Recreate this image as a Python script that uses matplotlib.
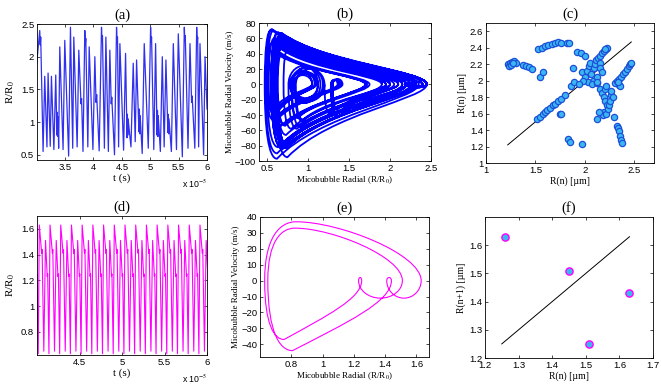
import numpy as np
import matplotlib.pyplot as plt
from matplotlib.path import Path
from matplotlib.patches import PathPatch

plt.rcParams['font.family'] = ['Liberation Sans', 'DejaVu Sans']
plt.rcParams['mathtext.fontset'] = 'stix'
SERIF = ['Liberation Serif', 'DejaVu Serif']

# ---- (a) chaotic R/R0 trace, turning points (t in 1e-5 s)
a_t = [3.000, 3.053, 3.062, 3.070, 3.112, 3.141, 3.180, 3.200, 3.238, 3.259,
       3.302, 3.335, 3.355, 3.362, 3.370, 3.376, 3.386, 3.406, 3.464, 3.494,
       3.562, 3.594, 3.634, 3.653, 3.712, 3.741, 3.780, 3.790, 3.815, 3.847,
       3.856, 3.864, 3.900, 3.924, 3.990, 4.024, 4.045, 4.056, 4.100, 4.141,
       4.150, 4.158, 4.192, 4.218, 4.262, 4.288, 4.312, 4.322, 4.370, 4.406,
       4.415, 4.423, 4.442, 4.465, 4.530, 4.565, 4.590, 4.597, 4.604, 4.610,
       4.660, 4.700, 4.735, 4.759, 4.800, 4.808, 4.816, 4.822, 4.858, 4.894,
       4.965, 5.006, 5.015, 5.023, 5.062, 5.094, 5.120, 5.127, 5.134, 5.140,
       5.178, 5.212, 5.245, 5.276, 5.310, 5.317, 5.324, 5.330, 5.372, 5.406,
       5.462, 5.494, 5.565, 5.600, 5.609, 5.617, 5.665, 5.700, 5.728, 5.738,
       5.785, 5.818, 5.827, 5.835, 5.852, 5.876, 5.940, 5.965, 6.000]
a_r = [1.90, 2.40, 2.18, 2.30, 0.55, 1.70, 0.62, 1.75, 0.63, 1.70,
       0.58, 1.72, 0.80, 1.15, 0.78, 1.08, 0.60, 2.15, 0.58, 2.25,
       0.48, 2.45, 0.60, 2.30, 0.62, 2.10, 1.28, 1.36, 0.55, 2.40,
       2.18, 2.28, 0.62, 2.15, 0.58, 2.00, 1.30, 1.42, 0.56, 2.45,
       2.25, 2.32, 0.60, 2.30, 0.55, 2.10, 1.28, 1.38, 0.50, 2.45,
       2.22, 2.30, 0.62, 2.20, 0.57, 2.05, 0.76, 1.12, 0.80, 1.05,
       0.62, 1.90, 0.70, 1.95, 0.85, 1.20, 0.82, 1.10, 0.52, 2.20,
       0.60, 2.45, 2.22, 2.30, 0.58, 2.20, 0.80, 1.18, 0.78, 1.10,
       0.55, 2.00, 0.62, 1.95, 0.84, 1.12, 0.82, 1.05, 0.55, 2.20,
       0.58, 2.35, 0.47, 2.45, 2.25, 2.32, 0.60, 2.20, 1.30, 1.40,
       0.60, 2.45, 2.22, 2.30, 0.62, 2.20, 0.50, 2.00, 1.20]
# ---- (b) peak wall velocity (m/s) on each stroke between the turning points above
b_v = [18, -3, 2, -84, 41, -52, 41, -54, 39, -54,
       41, -44, 22, -24, 18, -35, 56, -75, 60, -90,
       72, -95, 61, -81, 53, -39, 6, -42, 67, -3,
       2, -80, 55, -75, 51, -33, 7, -45, 68, -3,
       2, -83, 61, -84, 56, -39, 6, -46, 70, -4,
       2, -81, 57, -78, 53, -58, 24, -24, 16, -30,
       46, -58, 45, -46, 20, -22, 14, -38, 60, -77,
       67, -4, 2, -83, 58, -56, 22, -22, 16, -33,
       52, -66, 48, -48, 16, -18, 12, -30, 59, -78,
       64, -97, 71, -3, 2, -83, 58, -43, 6, -40,
       67, -4, 2, -81, 57, -82, 54, -38]

# ---- (c) return map of maxima
c_x = [1.22, 1.23, 1.24, 1.25, 1.26, 1.28, 1.30, 1.27,
       1.37, 1.40, 1.44, 1.47,
       1.55, 1.58,
       1.53, 1.57, 1.60, 1.63, 1.67, 1.70, 1.73, 1.76, 1.82, 1.84,
       1.52, 1.55, 1.58, 1.60, 1.62, 1.65, 1.68, 1.70, 1.73, 1.76, 1.80, 1.86, 1.89,
       1.75, 1.76, 1.83, 1.85, 1.97,
       1.88, 1.92, 1.96, 2.00, 1.97, 2.00, 2.02, 2.04, 2.05, 2.06, 2.08, 2.09,
       2.10, 2.11, 2.12, 2.13, 2.15, 2.15, 2.17, 2.03, 2.07, 1.98, 2.12, 1.94,
       2.15, 2.17, 2.19, 2.21, 2.22, 2.20,
       2.12, 2.15, 2.17, 2.19, 2.20, 2.22, 2.19, 2.18,
       2.21, 2.23, 2.24, 2.25, 2.26, 2.27, 2.20, 2.21,
       2.12, 2.14, 2.29, 2.30,
       2.33, 2.34, 2.35, 2.36, 2.37, 2.38,
       2.31, 2.33, 2.35, 2.37, 2.39, 2.41, 2.43, 2.45, 2.46, 2.47, 2.35, 2.36, 2.34]
c_y = [2.20, 2.18, 2.22, 2.19, 2.23, 2.24, 2.21, 2.22,
       2.19, 2.18, 2.16, 2.14,
       2.05, 2.10,
       2.38, 2.40, 2.42, 2.43, 2.45, 2.46, 2.47, 2.46, 2.46, 2.46,
       1.53, 1.56, 1.60, 1.62, 1.64, 1.67, 1.70, 1.72, 1.75, 1.78, 1.82, 1.93, 1.98,
       1.60, 1.59, 1.29, 1.26, 1.23,
       2.15, 2.35, 2.34, 2.30, 2.10, 2.05, 2.12, 2.18, 2.22, 2.08, 2.00, 2.15,
       2.20, 2.25, 2.05, 2.28, 2.22, 2.15, 2.10, 1.98, 1.96, 2.00, 1.97, 1.96,
       2.30, 2.33, 2.36, 2.38, 2.40, 2.39,
       1.98, 1.90, 1.85, 1.80, 1.75, 1.70, 1.62, 1.58,
       1.60, 1.65, 1.70, 1.75, 1.82, 1.87, 1.90, 1.93,
       1.53, 1.62, 1.80, 1.56,
       1.45, 1.42, 1.39, 1.33, 1.28, 1.24,
       1.97, 2.00, 2.02, 2.05, 2.08, 2.11, 2.14, 2.18, 2.20, 2.22, 1.95, 1.93, 1.98]
c_diag = [1.22, 2.47]

# ---- (d) periodic trace: one period of turning points (phase, R/R0)
d_period = 0.126          # 1e-5 s
d_first_peak = 4.027
d_phase = [0.00, 0.22, 0.26, 0.42, 0.58, 0.74, 0.78, 0.90]
d_r = [1.63, 1.41, 1.44, 0.65, 1.51, 1.23, 1.25, 0.63]
# ---- (e) peak velocity on each stroke of that period (m/s)
e_v = [-11, 2, -44, 33, -11, 2, -37, 37]

# ---- (f) return map
f_x = [1.26, 1.45, 1.51, 1.63]
f_y = [1.63, 1.51, 1.25, 1.43]
f_diag = [1.25, 1.63]


def phase_path(r, v, frac_up, frac_down, sharp, rise_k, fall_k):
    # one smooth stroke per pair of turning points, drawn as bezier pieces
    s1, s2 = sharp
    verts = [(r[0], 0.0)]
    codes = [Path.MOVETO]
    for i in range(len(v)):
        r0, r1, vi = r[i], r[i + 1], v[i]
        d = abs(r1 - r0)
        if d < 0.4:
            rv = 0.5 * (r0 + r1)
            pts = [(r0, 0.55 * vi), (r0 + 0.45 * (rv - r0), vi), (rv, vi),
                   (rv + 0.55 * (r1 - rv), vi), (r1, 0.55 * vi), (r1, 0.0)]
        elif r1 > r0:
            rv = r0 + frac_up * d
            a, b, c = rise_k
            pts = [(r0, s2 * vi), (r0 + s1 * (rv - r0), vi), (rv, vi),
                   (rv + a * (r1 - rv), b * vi), (r1, c * vi), (r1, 0.0)]
        else:
            rv = r1 + frac_down * d
            a, b, c = fall_k
            pts = [(r0, c * vi), (rv + a * (r0 - rv), b * vi), (rv, vi),
                   (r1 + s1 * (rv - r1), vi), (r1, s2 * vi), (r1, 0.0)]
        verts += pts
        codes += [Path.CURVE4] * 6
    return Path(verts, codes)


def style(ax, title):
    ax.tick_params(direction='in', top=True, right=True, length=2.5,
                   width=0.5, labelsize=6.8, pad=2)
    for s in ax.spines.values():
        s.set_linewidth(0.6)
    ax.set_title(title, fontsize=10.5, family=SERIF, pad=4)


fig = plt.figure(figsize=(6.61, 3.84), dpi=100)

# (a)
ax = fig.add_axes([0.0560, 0.5833, 0.2572, 0.3542])
ax.plot(a_t, a_r, color='#3030ee', lw=0.9)
ax.set_xlim(3.005, 6.0)
ax.set_ylim(0.42, 2.5)
ax.set_xticks([3.5, 4, 4.5, 5, 5.5, 6])
ax.set_xticklabels(['3.5', '4', '4.5', '5', '5.5', '6'])
ax.set_yticks([0.5, 1, 1.5, 2, 2.5])
ax.set_yticklabels(['0.5', '1', '1.5', '2', '2.5'])
ax.set_xlabel('t (s)', family=SERIF, fontsize=8, labelpad=1)
ax.set_ylabel(r'R/R$_0$', family=SERIF, fontsize=8, labelpad=3)
ax.text(1.0, -0.13, r'x 10$^{-5}$', transform=ax.transAxes, ha='right',
        va='top', fontsize=6.3)
style(ax, '(a)')

# (b)
ax = fig.add_axes([0.3918, 0.5807, 0.2602, 0.3594])
ax.add_patch(PathPatch(phase_path(a_r, b_v, 0.04, 0.08, (0.3, 0.6),
                                  (0.3, 0.4, 0.25), (0.3, 0.4, 0.2)),
                       fill=False, edgecolor='#0000ff', lw=1.3))
ax.set_xlim(0.4, 2.5)
ax.set_ylim(-100, 80)
ax.set_xticks([0.5, 1, 1.5, 2, 2.5])
ax.set_xticklabels(['0.5', '1', '1.5', '2', '2.5'])
ax.set_yticks(np.arange(-100, 81, 20))
ax.set_yticklabels(['\u2212100', '\u221280', '\u221260', '\u221240', '\u221220',
                    '0', '20', '40', '60', '80'])
ax.set_xlabel(r'Micobubble Radial (R/R$_0$)', family=SERIF, fontsize=6.5, labelpad=1)
ax.set_ylabel('Micobubble Radial Velocity (m/s)', family=SERIF, fontsize=6.5, labelpad=1)
style(ax, '(b)')

# (c)
ax = fig.add_axes([0.7352, 0.5755, 0.2542, 0.3646])
ax.plot(c_diag, c_diag, color='k', lw=0.7)
ax.plot(c_x, c_y, 'o', ls='none', ms=4.5, mfc='#3cb6f2', mec='#1c50d8', mew=0.9)
ax.set_xlim(1, 2.7)
ax.set_ylim(1, 2.7)
ax.set_xticks([1, 1.5, 2, 2.5])
ax.set_xticklabels(['1', '1.5', '2', '2.5'])
ax.set_yticks([1, 1.2, 1.4, 1.6, 1.8, 2, 2.2, 2.4, 2.6])
ax.set_yticklabels(['1', '1.2', '1.4', '1.6', '1.8', '2', '2.2', '2.4', '2.6'])
ax.set_xlabel('R(n) [\u00b5m]', family=SERIF, fontsize=7, labelpad=1)
ax.set_ylabel('R(n) [\u00b5m]', family=SERIF, fontsize=7, labelpad=2)
style(ax, '(c)')

# (d)
d_t, d_rr = [], []
for k in range(-1, 17):
    for ph, rr in zip(d_phase, d_r):
        d_t.append(d_first_peak + (k + ph) * d_period)
        d_rr.append(rr)
ax = fig.add_axes([0.0560, 0.0755, 0.2572, 0.3620])
ax.plot(d_t, d_rr, color='#ff00ff', lw=0.8)
ax.set_xlim(4.0, 6.0)
ax.set_ylim(0.62, 1.7)
ax.set_xticks([4.5, 5, 5.5, 6])
ax.set_xticklabels(['4.5', '5', '5.5', '6'])
ax.set_yticks([0.8, 1, 1.2, 1.4, 1.6])
ax.set_yticklabels(['0.8', '1', '1.2', '1.4', '1.6'])
ax.set_xlabel('t (s)', family=SERIF, fontsize=8, labelpad=1)
ax.set_ylabel(r'R/R$_0$', family=SERIF, fontsize=8, labelpad=3)
ax.text(1.0, -0.13, r'x 10$^{-5}$', transform=ax.transAxes, ha='right',
        va='top', fontsize=6.3)
style(ax, '(d)')

# (e)
ax = fig.add_axes([0.3933, 0.0703, 0.2557, 0.3646])
ax.add_patch(PathPatch(phase_path(d_r + d_r[:1], e_v, 0.2, 0.2, (0.5, 0.75),
                                  (0.35, 1.0, 0.45), (0.55, 0.6, 0.3)),
                       fill=False, edgecolor='#ff00ff', lw=0.8))
ax.set_xlim(0.6, 1.68)
ax.set_ylim(-48, 40)
ax.set_xticks([0.8, 1, 1.2, 1.4, 1.6])
ax.set_xticklabels(['0.8', '1', '1.2', '1.4', '1.6'])
ax.set_yticks(np.arange(-40, 41, 10))
ax.set_yticklabels(['\u221240', '\u221230', '\u221220', '\u221210', '0',
                    '10', '20', '30', '40'])
ax.set_xlabel(r'Micobubble Radial (R/R$_0$)', family=SERIF, fontsize=6.5, labelpad=1)
ax.set_ylabel('Micobubble Radial Velocity (m/s)', family=SERIF, fontsize=6.5, labelpad=1)
style(ax, '(e)')

# (f)
ax = fig.add_axes([0.7337, 0.0677, 0.2542, 0.3672])
ax.plot(f_diag, f_diag, color='k', lw=0.7)
ax.plot(f_x, f_y, 'o', ls='none', ms=5.2, mfc='#3cb6f2', mec='#ff00ff', mew=1.0)
ax.set_xlim(1.2, 1.7)
ax.set_ylim(1.2, 1.7)
ax.set_xticks([1.2, 1.3, 1.4, 1.5, 1.6, 1.7])
ax.set_xticklabels(['1.2', '1.3', '1.4', '1.5', '1.6', '1.7'])
ax.set_yticks([1.2, 1.3, 1.4, 1.5, 1.6])
ax.set_yticklabels(['1.2', '1.3', '1.4', '1.5', '1.6'])
ax.set_xlabel('R(n) [\u00b5m]', family=SERIF, fontsize=7, labelpad=1)
ax.set_ylabel('R(n+1) [\u00b5m]', family=SERIF, fontsize=7, labelpad=2)
style(ax, '(f)')

fig.savefig('out.png', dpi=100)
